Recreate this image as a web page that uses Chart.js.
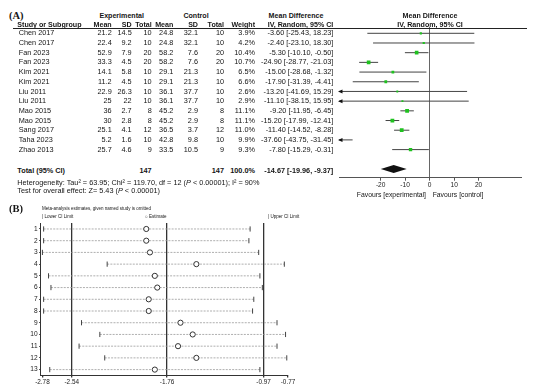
<!DOCTYPE html>
<html>
<head>
<meta charset="utf-8">
<script src="https://cdn.jsdelivr.net/npm/chart.js@4.4.0/dist/chart.umd.min.js"></script>
<style>
  body { margin: 0; background: #fff; }
  #page { position: relative; width: 540px; height: 389px; overflow: hidden; font-family: "Liberation Sans", Arial, sans-serif; color: #151515; }
  .t { position: absolute; white-space: nowrap; }
  canvas { position: absolute; }
</style>
</head>
<body>
<div id="page">
  <canvas id="forest" width="202" height="173" style="left:329px; top:17px;"></canvas>
  <canvas id="sens" width="280" height="176" style="left:20px; top:213px;"></canvas>
</div>
<script>
// --- panel A: forest plot data ---
const studies = ['Chen 2017', 'Chen 2017', 'Fan 2023', 'Fan 2023', 'Kim 2021', 'Kim 2021', 'Liu 2011', 'Liu 2011', 'Mao 2015', 'Mao 2015', 'Sang 2017', 'Taha 2023', 'Zhao 2013'];
const expMean = [21.2, 22.4, 52.9, 33.3, 14.1, 11.2, 22.9, 25, 36, 30, 25.1, 5.2, 25.7];
const expSD = [14.5, 9.2, 7.9, 4.5, 5.8, 4.5, 26.3, 22, 2.7, 2.8, 4.1, 1.6, 4.6];
const expN = [10, 10, 20, 20, 10, 10, 10, 10, 8, 8, 12, 10, 9];
const ctlMean = [24.8, 24.8, 58.2, 58.2, 29.1, 29.1, 36.1, 36.1, 45.2, 45.2, 36.5, 42.8, 33.5];
const ctlSD = [32.1, 32.1, 7.6, 7.6, 21.3, 21.3, 37.7, 37.7, 2.9, 2.9, 3.7, 9.8, 10.5];
const ctlN = [10, 10, 20, 20, 10, 10, 10, 10, 8, 8, 12, 10, 9];
const weights = [3.9, 4.2, 10.4, 10.7, 6.5, 6.6, 2.6, 2.9, 11.1, 11.1, 11.0, 9.9, 9.3];
const meanDiff = [-3.60, -2.40, -5.30, -24.90, -15.00, -17.90, -13.20, -11.10, -9.20, -15.20, -11.40, -37.60, -7.80];
const ciLow = [-25.43, -23.10, -10.10, -28.77, -28.68, -31.39, -41.69, -38.15, -11.95, -17.99, -14.52, -43.75, -15.29];
const ciHigh = [18.23, 18.30, -0.50, -21.03, -1.32, -4.41, 15.29, 15.95, -6.45, -12.41, -8.28, -31.45, -0.31];
const totalN = [147, 147];
const totalMD = -14.67;
const totalCI = [-19.96, -9.37];
const forestTicks = [-20, -10, 0, 10, 20];

// --- panel B: leave-one-out data ---
const omitted = [1, 2, 3, 4, 5, 6, 7, 8, 9, 10, 11, 12, 13];
const lowerCI = [-2.77, -2.77, -2.78, -2.25, -2.73, -2.71, -2.77, -2.77, -2.46, -2.31, -2.48, -2.27, -2.72];
const estimate = [-1.93, -1.93, -1.90, -1.52, -1.86, -1.84, -1.91, -1.91, -1.65, -1.55, -1.67, -1.52, -1.86];
const upperCI = [-1.08, -1.09, -1.01, -0.80, -1.00, -0.98, -1.05, -1.06, -0.86, -0.79, -0.86, -0.78, -1.00];
const sensTicks = [-2.78, -2.54, -1.76, -0.97, -0.77];
const refLines = [-2.54, -1.76, -0.97];

Chart.defaults.font.family = "'Liberation Sans', Arial, sans-serif";
Chart.defaults.color = '#1a1a1a';
Chart.defaults.animation = false;

const page = document.getElementById('page');
function txt(str, x, y, opts = {}) {
    const d = document.createElement('div');
    d.className = 't';
    d.innerHTML = str;
    const size = opts.size || 7.3;
    d.style.fontSize = size + 'px';
    d.style.lineHeight = '10px';
    d.style.left = x + 'px';
    d.style.top = (y - 5) + 'px';
    if (opts.bold) d.style.fontWeight = 'bold';
    if (opts.font) d.style.fontFamily = opts.font;
    if (opts.align === 'right') d.style.transform = 'translateX(-100%)';
    if (opts.align === 'center') d.style.transform = 'translateX(-50%)';
    page.appendChild(d);
}

// --- table of panel A ---
const rowY0 = 33.3, rowStep = 9.7;
const cols = { expMean: 111.7, expSD: 131.7, expN: 151.7, ctlMean: 173.3, ctlSD: 198, ctlN: 224, weight: 255, ci: 333.3 };

txt('(A)', 9, 15.5, { size: 10.5, bold: true, font: "'Liberation Serif', serif" });
txt('Experimental', 121.7, 15.7, { bold: true, align: 'center', size: 7.1 });
txt('Control', 196, 15.7, { bold: true, align: 'center', size: 7.1 });
txt('Mean Difference', 296, 15.7, { bold: true, align: 'center', size: 7.1 });
txt('Mean Difference', 430, 15.7, { bold: true, align: 'center', size: 7.1 });
const h2 = 25.3;
txt('Study or Subgroup', 17.3, h2, { bold: true, size: 7.1 });
txt('Mean', cols.expMean, h2, { bold: true, align: 'right', size: 7.1 });
txt('SD', cols.expSD, h2, { bold: true, align: 'right', size: 7.1 });
txt('Total', cols.expN, h2, { bold: true, align: 'right', size: 7.1 });
txt('Mean', cols.ctlMean, h2, { bold: true, align: 'right', size: 7.1 });
txt('SD', cols.ctlSD, h2, { bold: true, align: 'right', size: 7.1 });
txt('Total', cols.ctlN, h2, { bold: true, align: 'right', size: 7.1 });
txt('Weight', cols.weight, h2, { bold: true, align: 'right', size: 7.1 });
txt('IV, Random, 95% CI', cols.ci, h2, { bold: true, align: 'right', size: 7.1 });
txt('IV, Random, 95% CI', 430, h2, { bold: true, align: 'center', size: 7.1 });

const rule = document.createElement('div');
rule.style.cssText = 'position:absolute;left:13px;top:27.5px;width:514px;height:0;border-top:1px solid #222;';
page.appendChild(rule);

studies.forEach((s, i) => {
    const y = rowY0 + i * rowStep;
    txt(s, 18.7, y);
    txt(String(expMean[i]), cols.expMean, y, { align: 'right' });
    txt(String(expSD[i]), cols.expSD, y, { align: 'right' });
    txt(String(expN[i]), cols.expN, y, { align: 'right' });
    txt(String(ctlMean[i]), cols.ctlMean, y, { align: 'right' });
    txt(String(ctlSD[i]), cols.ctlSD, y, { align: 'right' });
    txt(String(ctlN[i]), cols.ctlN, y, { align: 'right' });
    txt(weights[i].toFixed(1) + '%', cols.weight, y, { align: 'right' });
    txt(meanDiff[i].toFixed(2) + ' [' + ciLow[i].toFixed(2) + ', ' + ciHigh[i].toFixed(2) + ']', cols.ci, y, { align: 'right' });
});

const totY = 170.5;
txt('Total (95% CI)', 17.3, totY, { bold: true });
txt(String(totalN[0]), cols.expN, totY, { bold: true, align: 'right' });
txt(String(totalN[1]), cols.ctlN, totY, { bold: true, align: 'right' });
txt('100.0%', cols.weight, totY, { bold: true, align: 'right' });
txt(totalMD.toFixed(2) + ' [' + totalCI[0].toFixed(2) + ', ' + totalCI[1].toFixed(2) + ']', cols.ci, totY, { bold: true, align: 'right' });
txt('Heterogeneity: Tau² = 63.95; Chi² = 119.70, df = 12 (<i>P</i> &lt; 0.00001); I² = 90%', 17.3, 182.7);
txt('Test for overall effect: Z= 5.43 (<i>P</i> &lt; 0.00001)', 17.3, 191.3);
txt('Favours [experimental]', 426, 194.6, { align: 'right', size: 6.8 });
txt('Favours [control]', 432.7, 194.6, { size: 6.8 });

// --- forest plot ---
const totalRow = 14;
const forestExtras = {
    id: 'forestExtras',
    afterDatasetsDraw(chart) {
        const { ctx, scales: { x, y }, chartArea } = chart;
        ctx.save();
        ctx.fillStyle = '#111';
        // arrows for intervals running off the left edge
        ciLow.forEach((v, i) => {
            if (v < x.min) {
                const py = y.getPixelForValue(i);
                const px = chartArea.left;
                ctx.beginPath();
                ctx.moveTo(px - 1, py);
                ctx.lineTo(px + 3.5, py - 2);
                ctx.lineTo(px + 3.5, py + 2);
                ctx.closePath();
                ctx.fill();
            }
        });
        // pooled diamond
        const yc = y.getPixelForValue(totalRow);
        ctx.beginPath();
        ctx.moveTo(x.getPixelForValue(totalCI[0]), yc);
        ctx.lineTo(x.getPixelForValue(totalMD), yc - 4);
        ctx.lineTo(x.getPixelForValue(totalCI[1]), yc);
        ctx.lineTo(x.getPixelForValue(totalMD), yc + 4);
        ctx.closePath();
        ctx.fill();
        ctx.restore();
    }
};

const xMinA = -37, xMaxA = 37.3;
const ciSets = studies.map((s, i) => ({
    label: s,
    data: [{ x: ciLow[i], y: i }, { x: ciHigh[i], y: i }],
    showLine: true,
    borderColor: '#444',
    borderWidth: 1,
    pointRadius: 0,
    order: 2
}));

new Chart(document.getElementById('forest'), {
    type: 'scatter',
    data: {
        datasets: [
            {
                label: 'MD',
                data: meanDiff.map((v, i) => ({ x: v, y: i })),
                pointStyle: 'rect',
                pointRadius: weights.map((w, i) => meanDiff[i] < xMinA ? 0 : 0.9 + w * 0.16),
                backgroundColor: '#1fc21f',
                borderWidth: 0,
                order: 0
            },
            ...ciSets
        ]
    },
    options: {
        responsive: false,
        layout: { padding: { left: 10, right: 10, top: 10, bottom: 0 } },
        plugins: { legend: { display: false }, tooltip: { enabled: false } },
        scales: {
            x: {
                type: 'linear', min: xMinA, max: xMaxA,
                afterBuildTicks: (scale) => { scale.ticks = forestTicks.map(v => ({ value: v })); },
                afterFit: (scale) => { scale.height = 12.3; },
                ticks: { font: { size: 6.6 }, padding: 0.5, maxRotation: 0, autoSkip: false, color: '#222' },
                grid: {
                    drawOnChartArea: true,
                    color: (c) => c.tick && c.tick.value === 0 ? '#666' : 'transparent',
                    tickColor: '#555', tickLength: 3, lineWidth: 1
                },
                border: { display: true, color: '#555', width: 1 }
            },
            y: { type: 'linear', display: false, reverse: true, min: -0.65, max: 14.9 }
        }
    },
    plugins: [forestExtras]
});

// --- panel B text ---
txt('(B)', 9, 209, { size: 10.5, bold: true, font: "'Liberation Serif', serif" });
txt('Meta-analysis estimates, given named study is omitted', 42, 209, { size: 4.5 });
txt('| Lower CI Limit', 42, 217.3, { size: 4.5 });
txt('○ Estimate', 145, 217.3, { size: 4.5 });
txt('| Upper CI Limit', 268, 217.3, { size: 4.5 });

// --- leave-one-out plot ---
const rowLines = omitted.map((r, i) => ({
    label: 'row ' + r,
    data: [{ x: lowerCI[i], y: r }, { x: upperCI[i], y: r }],
    showLine: true,
    borderColor: '#9a9a9a',
    borderWidth: 0.8,
    borderDash: [2, 1.2],
    pointRadius: 0,
    order: 3
}));

new Chart(document.getElementById('sens'), {
    type: 'scatter',
    data: {
        datasets: [
            {
                label: 'Estimate',
                data: estimate.map((v, i) => ({ x: v, y: omitted[i] })),
                pointStyle: 'circle', pointRadius: 2.6,
                backgroundColor: '#fff', borderColor: '#333', borderWidth: 1,
                order: 0
            },
            {
                label: 'Lower CI Limit',
                data: lowerCI.map((v, i) => ({ x: v, y: omitted[i] })),
                pointStyle: 'line', rotation: 90, pointRadius: 2.6,
                borderColor: '#444', borderWidth: 1,
                order: 1
            },
            {
                label: 'Upper CI Limit',
                data: upperCI.map((v, i) => ({ x: v, y: omitted[i] })),
                pointStyle: 'line', rotation: 90, pointRadius: 2.6,
                borderColor: '#444', borderWidth: 1,
                order: 1
            },
            ...rowLines
        ]
    },
    options: {
        responsive: false,
        layout: { padding: { left: 0, right: 12, top: 10, bottom: 0 } },
        plugins: { legend: { display: false }, tooltip: { enabled: false } },
        scales: {
            x: {
                type: 'linear', min: -2.794, max: -0.77,
                afterBuildTicks: (scale) => { scale.ticks = sensTicks.map(v => ({ value: v })); },
                afterFit: (scale) => { scale.height = 14; },
                ticks: { font: { size: 6.4 }, padding: 0.5, maxRotation: 0, autoSkip: false, color: '#222',
                         callback: (v) => v.toFixed(2) },
                grid: {
                    drawOnChartArea: true,
                    color: (c) => c.tick && refLines.includes(c.tick.value) ? '#333' : 'transparent',
                    lineWidth: 1.3, tickColor: '#333', tickLength: 2.5
                },
                border: { display: true, color: '#333', width: 1 }
            },
            y: {
                type: 'linear', reverse: true, min: 0.49, max: 13.46,
                afterBuildTicks: (scale) => { scale.ticks = omitted.map(v => ({ value: v })); },
                afterFit: (scale) => { scale.width = 20.7; },
                ticks: { font: { size: 6.6 }, padding: 1.5, autoSkip: false, color: '#222' },
                grid: { drawOnChartArea: false, tickColor: '#333', tickLength: 1.5 },
                border: { display: true, color: '#333', width: 1 }
            }
        }
    }
});
</script>
</body>
</html>
